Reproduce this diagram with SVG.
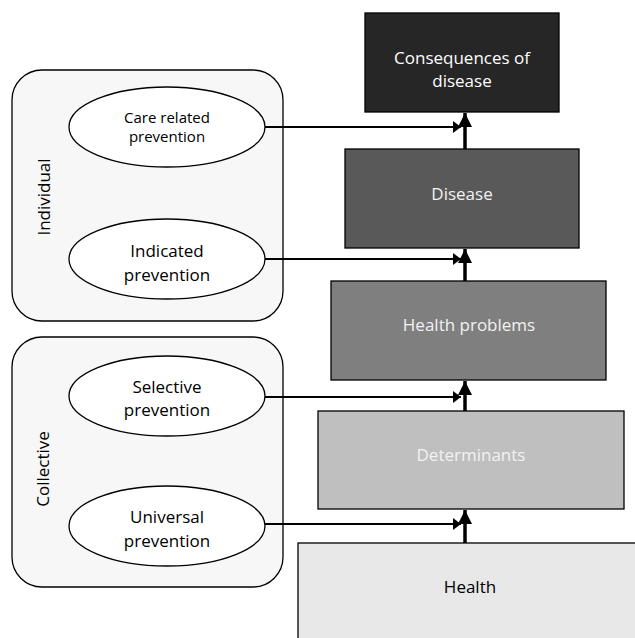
<svg xmlns="http://www.w3.org/2000/svg" width="635" height="638" viewBox="0 0 635 638">
<style>
.grp{fill:#f7f7f7;stroke:#000;stroke-width:1.3}
.ell{fill:#fff;stroke:#000;stroke-width:1.3}
.box{stroke:#000;stroke-width:1.3}
text{font-family:"Open Sans","Liberation Sans",Arial,sans-serif;font-size:17px;text-anchor:middle}
.w{fill:#fff}
.lw{fill:#f2f2f2}
.b{fill:#000}
.sm{font-size:15px}
.h{fill:none;stroke:#000;stroke-width:1.8}
.v{fill:none;stroke:#000;stroke-width:3.5}
</style>
<defs>
<marker id="ah" markerWidth="8" markerHeight="12" refX="8" refY="6" orient="auto" markerUnits="userSpaceOnUse"><path d="M0,0 L8,6 L0,12 Z" fill="#000"/></marker>
<marker id="av" markerWidth="14" markerHeight="14" refX="14" refY="7" orient="auto" markerUnits="userSpaceOnUse"><path d="M0,0 L14,7 L0,14 Z" fill="#000"/></marker>
</defs>
<g id="individual">
<rect class="grp" x="12" y="70" width="271" height="251" rx="30"/>
<text class="b" transform="translate(50,197) rotate(-90)">Individual</text>
</g>
<g id="collective">
<rect class="grp" x="12" y="337" width="271" height="250" rx="30"/>
<text class="b" transform="translate(49,469) rotate(-90)">Collective</text>
</g>
<g id="care">
<ellipse class="ell" cx="167" cy="127" rx="98" ry="40"/>
<text class="b sm" x="167" y="123">Care related</text>
<text class="b sm" x="167" y="142">prevention</text>
</g>
<g id="indicated">
<ellipse class="ell" cx="167" cy="259" rx="98" ry="40"/>
<text class="b" x="167" y="257">Indicated</text>
<text class="b" x="167" y="281">prevention</text>
</g>
<g id="selective">
<ellipse class="ell" cx="167" cy="396" rx="98" ry="40"/>
<text class="b" x="167" y="393">Selective</text>
<text class="b" x="167" y="416">prevention</text>
</g>
<g id="universal">
<ellipse class="ell" cx="167" cy="526" rx="98" ry="40"/>
<text class="b" x="167" y="523">Universal</text>
<text class="b" x="167" y="547">prevention</text>
</g>
<g id="consequences">
<rect class="box" x="365" y="13" width="194" height="99" fill="#262626"/>
<text class="w" x="462" y="64">Consequences of</text>
<text class="w" x="462" y="87">disease</text>
</g>
<g id="disease">
<rect class="box" x="345" y="149" width="234" height="99" fill="#595959"/>
<text class="lw" x="462" y="200">Disease</text>
</g>
<g id="healthproblems">
<rect class="box" x="331" y="281" width="275" height="99" fill="#7f7f7f"/>
<text class="lw" x="469" y="331">Health problems</text>
</g>
<g id="determinants">
<rect class="box" x="318" y="411" width="306" height="98" fill="#bfbfbf"/>
<text class="lw" x="471" y="461">Determinants</text>
</g>
<g id="health">
<rect class="box" x="298" y="543" width="345" height="110" fill="#e8e8e8"/>
<text class="b" x="470" y="593">Health</text>
</g>
<g id="connectors">
<path class="v" d="M465,149 V113" marker-end="url(#av)"/>
<path class="v" d="M465,281 V249" marker-end="url(#av)"/>
<path class="v" d="M465,411 V381" marker-end="url(#av)"/>
<path class="v" d="M465,543 V510" marker-end="url(#av)"/>
<path class="h" d="M265,127 H461" marker-end="url(#ah)"/>
<path class="h" d="M265,259 H461" marker-end="url(#ah)"/>
<path class="h" d="M265,397 H461" marker-end="url(#ah)"/>
<path class="h" d="M265,524 H461" marker-end="url(#ah)"/>
</g>
</svg>
